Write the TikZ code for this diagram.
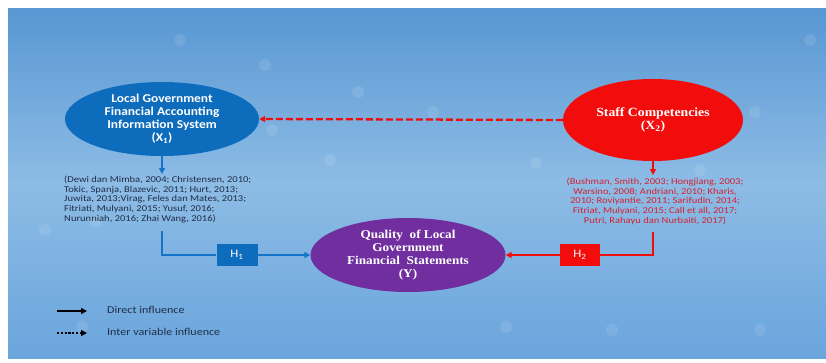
\documentclass[tikz,border=0pt]{standalone}
\usepackage{fontspec}
\setmainfont{Carlito}
\newfontfamily\serifb[FakeStretch=1.1]{Liberation Serif}
\newfontfamily\citefont[FakeStretch=1.17]{Carlito}
\newfontfamily\titlefont[FakeStretch=1.12]{Carlito}
\newfontfamily\legfont[FakeStretch=1.15]{Carlito}
\usetikzlibrary{shapes.geometric,arrows.meta,calc}
\definecolor{bgtop}{RGB}{88,151,211}
\definecolor{bgmid}{RGB}{141,188,229}
\definecolor{bgbot}{RGB}{106,165,220}
\definecolor{xblue}{RGB}{14,108,188}
\definecolor{xred}{RGB}{242,12,12}
\definecolor{xpurp}{RGB}{112,46,158}
\definecolor{citeL}{RGB}{32,46,72}
\definecolor{citeR}{RGB}{214,32,48}
\definecolor{lblue}{RGB}{22,116,200}
\tikzset{
  varnode/.style={ellipse, inner sep=0pt, text=white, align=center},
  hbox/.style={rectangle, inner sep=0pt, minimum width=41pt, minimum height=22pt, text=white, font=\titlefont\fontsize{11.5}{12}\selectfont},
  bluel/.style={draw=lblue, line width=2pt},
  redl/.style={draw=xred, line width=2pt},
  tip/.style={-{Triangle[length=6pt,width=6pt]}},
  cite/.style={inner sep=0pt, font=\citefont\fontsize{9}{9.6}\selectfont},
  legtext/.style={anchor=west, inner sep=0pt, text=citeL, font=\legfont\fontsize{10.5}{12}\selectfont},
  legarrow/.style={black, line width=1.6pt, -{Triangle[length=6pt,width=6pt]}},
  deco/.style={fill=white, fill opacity=0.1, draw=none}
}
\begin{document}
\begin{tikzpicture}[x=1pt,y=-1pt]
\fill[white] (0,0) rectangle (826,362);
\useasboundingbox (0,0) rectangle (826,362);
\shade[top color=bgtop, bottom color=bgbot, middle color=bgmid] (8,8) rectangle (826,358);
% faint background decoration
\foreach \p in {(265,65),(358,92),(433,112),(272,130),(536,163),(700,170),(755,112),(810,40),(45,230),(96,222),(82,327),(506,327),(612,330),(760,330),(330,160),(180,40)}
  \fill[deco] \p circle (6pt);

% variables
\node[varnode, fill=xblue, minimum width=194pt, minimum height=74pt,
      font=\titlefont\bfseries\fontsize{12}{13}\selectfont] (X1) at (162,119)
  {Local Government\\Financial Accounting\\Information System\\(X\textsubscript{1})};
\node[varnode, fill=xred, minimum width=180pt, minimum height=82pt,
      font=\serifb\bfseries\fontsize{12.5}{13.5}\selectfont] (X2) at (653,120)
  {Staff Competencies\\(X\textsubscript{2})};
\node[varnode, fill=xpurp, minimum width=195pt, minimum height=74pt,
      font=\serifb\bfseries\fontsize{12}{13}\selectfont] (Y) at (408,255)
  {Quality~ of Local\\Government\\Financial~ Statements\\(Y)};

% citations
\node[cite, anchor=north west, align=left, text=citeL] (CL) at (64,176)
  {(Dewi dan Mimba, 2004; Christensen, 2010;\\
   Tokic, Spanja, Blazevic, 2011; Hurt, 2013;\\
   Juwita, 2013;Virag, Feles dan Mates, 2013;\\
   Fitriati, Mulyani, 2015; Yusuf, 2016;\\
   Nurunniah, 2016; Zhai Wang, 2016)};
\node[cite, anchor=north, align=center, text=citeR] (CR) at (655,178)
  {(Bushman, Smith, 2003; Hongjiang, 2003;\\
   Warsino, 2008; Andriani, 2010; Kharis,\\
   2010; Roviyantie, 2011; Sarifudin, 2014;\\
   Fitriat, Mulyani, 2015; Call et all, 2017;\\
   Putri, Rahayu dan Nurbaiti, 2017)};

% hypothesis boxes
\node[hbox, fill=xblue] (H1) at (237,255) {H\textsubscript{1}};
\node[hbox, fill=xred, minimum width=40pt] (H2) at (580,255) {H\textsubscript{2}};

% connectors
\coordinate (a1) at (162,174);
\coordinate (b1) at (162,231);
\coordinate (r1) at (653,175);
\coordinate (r2) at (653,232);
\draw[redl, tip, line width=2.3pt, dash pattern=on 7pt off 3pt] (X2.west) -- (X1.east);
\draw[bluel, tip] (X1.south) -- (a1);
\draw[bluel] (b1) |- (H1.west);
\draw[bluel, tip] (H1.east) -- (Y.west);
\draw[redl, tip] (X2.south) -- (r1);
\draw[redl] (r2) |- (H2.east);
\draw[redl, tip] (H2.west) -- (Y.east);

% legend
\coordinate (l1s) at (57,311); \coordinate (l1e) at (87,311);
\coordinate (l2s) at (57,333); \coordinate (l2e) at (87,333);
\draw[legarrow] (l1s) -- (l1e);
\draw[legarrow, dash pattern=on 2.2pt off 1.6pt] (l2s) -- (l2e);
\node[legtext] (L1) at (107,310) {Direct influence};
\node[legtext] (L2) at (107,332) {Inter variable influence};
\end{tikzpicture}
\end{document}
